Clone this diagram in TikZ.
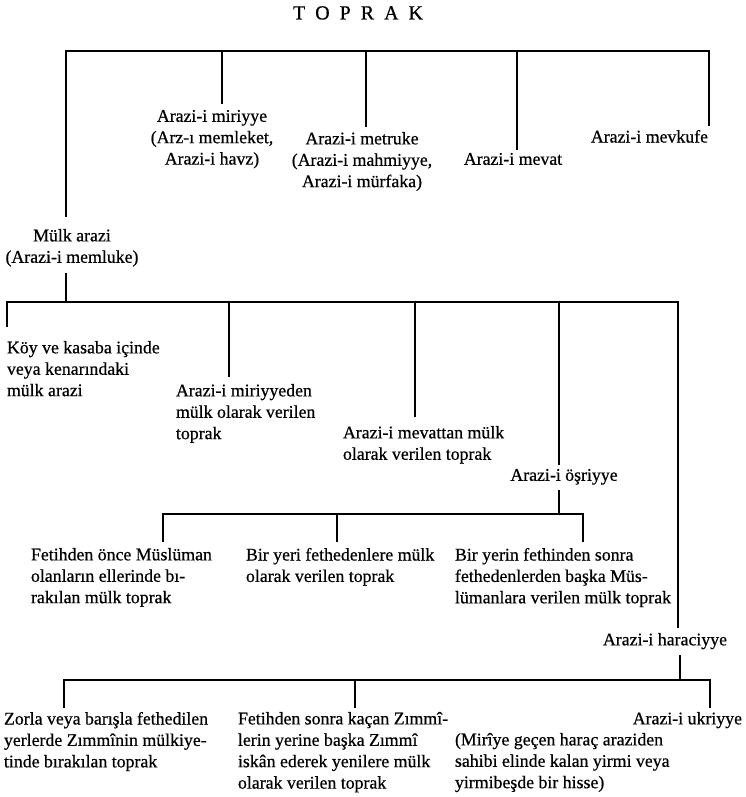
\documentclass[tikz,border=0pt]{standalone}
\usepackage{fontspec}
\setmainfont{Liberation Serif}
\newfontfamily\scanfont{Liberation Serif}[FakeBold=0.6]
\begin{document}
\begin{tikzpicture}[x=1pt,y=-1pt,
  lbl/.style={inner sep=0pt, outer sep=0pt, font=\scanfont\fontsize{17.8}{21.4}\selectfont},
  conn/.style={line width=1.9pt, line cap=rect},
  tofrom/.style={line width=1.9pt, shorten >=#1},
  fromnode/.style={line width=1.9pt, shorten <=#1}]
\useasboundingbox (0,0) rectangle (745,797);

% title
\node[inner sep=0pt, anchor=north, font=\scanfont\fontsize{20}{24}\selectfont] (title) at (358,6)
  {T\hspace{10pt}O\hspace{10pt}P\hspace{10pt}R\hspace{10pt}A\hspace{10pt}K};

% level 1
\node[lbl, anchor=north, align=center] (miri) at (212,110) {Arazi-i miriyye\\(Arz-ı memleket,\\Arazi-i havz)};
\node[lbl, anchor=north, align=center] (metruke) at (362,132) {Arazi-i metruke\\(Arazi-i mahmiyye,\\Arazi-i mürfaka)};
\node[lbl, anchor=north, align=center] (mevat) at (513,153) {Arazi-i mevat};
\node[lbl, anchor=north east, align=right] (mevkufe) at (708,130) {Arazi-i mevkufe};
\node[lbl, anchor=north, align=center] (mulk) at (72,229) {Mülk arazi\\(Arazi-i memluke)};

% level 2
\node[lbl, anchor=north west, align=left] (koy) at (7,341) {Köy ve kasaba içinde\\veya kenarındaki\\mülk arazi};
\node[lbl, anchor=north west, align=left] (miriden) at (176,384) {Arazi-i miriyyeden\\mülk olarak verilen\\toprak};
\node[lbl, anchor=north west, align=left] (mevattan) at (343,426) {Arazi-i mevattan mülk\\olarak verilen toprak};
\node[lbl, anchor=north, align=center] (osr) at (564,469) {Arazi-i öşriyye};
\node[lbl, anchor=north, align=center] (harac) at (665,633) {Arazi-i haraciyye};

% level 3 (osriyye)
\node[lbl, anchor=north west, align=left] (fet1) at (31,548) {Fetihden önce Müslüman\\olanların ellerinde bı-\\rakılan mülk toprak};
\node[lbl, anchor=north west, align=left] (fet2) at (246,548) {Bir yeri fethedenlere mülk\\olarak verilen toprak};
\node[lbl, anchor=north west, align=left] (fet3) at (455,548) {Bir yerin fethinden sonra\\fethedenlerden başka Müs-\\lümanlara verilen mülk toprak};

% level 3 (haraciyye)
\node[lbl, anchor=north west, align=left] (zorla) at (4,712) {Zorla veya barışla fethedilen\\yerlerde Zımmînin mülkiye-\\tinde bırakılan toprak};
\node[lbl, anchor=north west, align=left] (kacan) at (238,712) {Fetihden sonra kaçan Zımmî-\\lerin yerine başka Zımmî\\iskân ederek yenilere mülk\\olarak verilen toprak};
\node[lbl, anchor=north east, align=right] (ukri) at (742,712) {Arazi-i ukriyye};
\node[lbl, anchor=north west, align=left] (mirye) at (455,733) {(Mirîye geçen haraç araziden\\sahibi elinde kalan yirmi veya\\yirmibeşde bir hisse)};

% bus coordinates
\coordinate (tb0) at (66,51);
\coordinate (tb1) at (222,51);
\coordinate (tb2) at (366,51);
\coordinate (tb3) at (517,51);
\coordinate (tb4) at (709,51);

\coordinate (mb0) at (66,302);
\coordinate (mb1) at (7,302);
\coordinate (mb2) at (229,302);
\coordinate (mb3) at (415,302);
\coordinate (mb4) at (559,302);
\coordinate (mb5) at (678,302);

\coordinate (ob0) at (559,514);
\coordinate (ob1) at (163,514);
\coordinate (ob2) at (337,514);
\coordinate (ob3) at (583,514);

\coordinate (hb0) at (680,680);
\coordinate (hb1) at (64,680);
\coordinate (hb2) at (355,680);
\coordinate (hb3) at (710,680);

% top level
\draw[conn] (tb0) -- (tb4);
\draw[tofrom=12pt] (tb0) -- (tb0 |- mulk.north);
\draw[tofrom=6pt] (tb1) -- (tb1 |- miri.north);
\draw[tofrom=5pt] (tb2) -- (tb2 |- metruke.north);
\draw[tofrom=3pt] (tb3) -- (tb3 |- mevat.north);
\draw[tofrom=4pt] (tb4) -- (tb4 |- mevkufe.north);

% mulk arazi
\draw[fromnode=6pt] (mb0 |- mulk.south) -- (mb0);
\draw[conn] (mb1) -- (mb5);
\draw[tofrom=14pt] (mb1) -- (mb1 |- koy.north);
\draw[tofrom=7pt] (mb2) -- (mb2 |- miriden.north);
\draw[tofrom=9pt] (mb3) -- (mb3 |- mevattan.north);
\draw[tofrom=4pt] (mb4) -- (mb4 |- osr.north);
\draw[tofrom=5pt] (mb5) -- (mb5 |- harac.north);

% osriyye
\draw[fromnode=5pt] (ob0 |- osr.south) -- (ob0);
\draw[conn] (ob1) -- (ob3);
\draw[tofrom=6pt] (ob1) -- (ob1 |- fet1.north);
\draw[tofrom=6pt] (ob2) -- (ob2 |- fet2.north);
\draw[tofrom=6pt] (ob3) -- (ob3 |- fet3.north);

% haraciyye
\draw[fromnode=6pt] (hb0 |- harac.south) -- (hb0);
\draw[conn] (hb1) -- (hb3);
\draw[tofrom=4pt] (hb1) -- (hb1 |- zorla.north);
\draw[tofrom=4pt] (hb2) -- (hb2 |- kacan.north);
\draw[tofrom=4pt] (hb3) -- (hb3 |- ukri.north);
\end{tikzpicture}
\end{document}
